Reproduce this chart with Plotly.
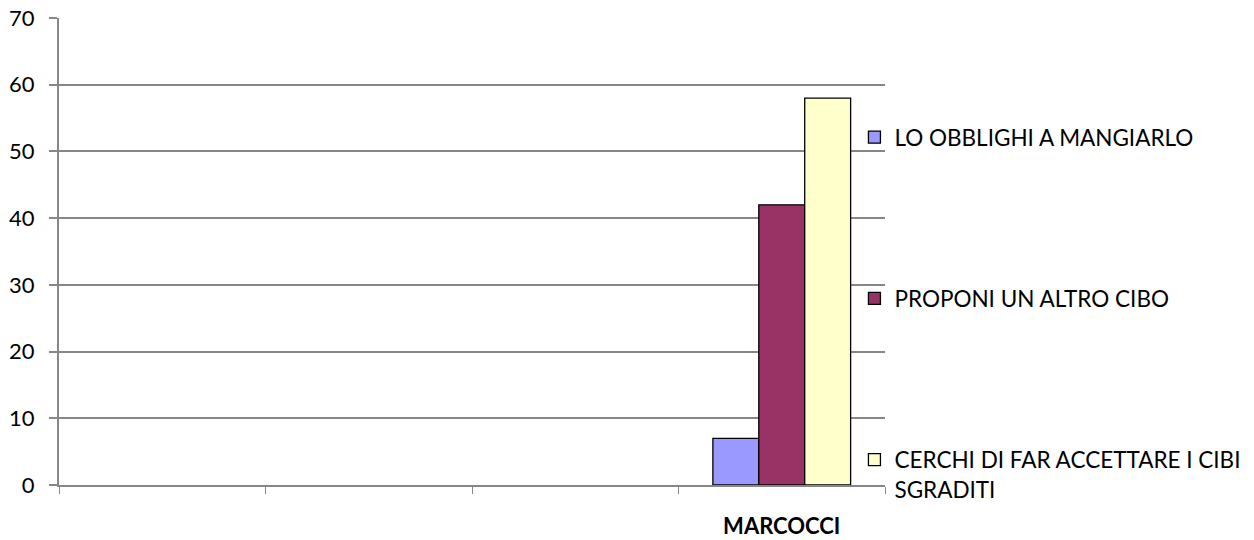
import plotly.graph_objects as go

categories = [" ", "  ", "   ", "MARCOCCI"]
tick_labels = ["", "", "", "<b>MARCOCCI</b>"]
series_names = ["LO OBBLIGHI A MANGIARLO", "PROPONI UN ALTRO CIBO",
                "CERCHI DI FAR ACCETTARE I CIBI<br>SGRADITI"]
obblighi = [None, None, None, 7]
proponi = [None, None, None, 42]
cerchi = [None, None, None, 58]
colors = ["#9999FF", "#993366", "#FFFFCC"]

FONT = "Lato"
fig = go.Figure()
for i, (name, vals) in enumerate(zip(series_names, [obblighi, proponi, cerchi])):
    fig.add_trace(go.Bar(
        x=categories, y=vals, name=name, legendgroup=f"g{i}",
        marker=dict(color=colors[i], line=dict(color="black", width=1.3)),
    ))

fig.update_layout(
    width=1254, height=540,
    margin=dict(l=59, r=369, t=18, b=55, autoexpand=False),
    paper_bgcolor="white", plot_bgcolor="white",
    barmode="group", bargap=0.333, bargroupgap=0,
    font=dict(family=FONT, size=22, color="black"),
    showlegend=True,
    legend=dict(x=0.963, xanchor="left", y=0.79, yanchor="top",
                traceorder="grouped", tracegroupgap=129, valign="top",
                font=dict(family=FONT, size=22.5, color="black"),
                itemwidth=30, bgcolor="rgba(0,0,0,0)"),
    xaxis=dict(
        type="category", categoryorder="array", categoryarray=categories,
        tickvals=categories, ticktext=tick_labels, automargin=False,
        tickson="boundaries", ticks="outside", ticklen=7, tickcolor="#868686",
        showline=True, linecolor="#868686", linewidth=2,
        showgrid=False, ticklabelstandoff=21,
        tickfont=dict(family=FONT, size=22, color="black"),
    ),
    yaxis=dict(
        range=[0, 70], dtick=10, tick0=0, automargin=False,
        showgrid=True, gridcolor="#868686", gridwidth=1.5,
        showline=True, linecolor="#868686", linewidth=2,
        ticks="outside", ticklen=8, tickcolor="#868686", tickwidth=1.5,
        ticklabelstandoff=10, zeroline=False, ticklabeloverflow="allow",
        tickfont=dict(family=FONT, size=22, color="black"),
    ),
)

fig.write_html(
    "out.html",
    config={"displayModeBar": False},
    post_script="document.body.style.margin='0';document.body.style.overflow='hidden';",
)
